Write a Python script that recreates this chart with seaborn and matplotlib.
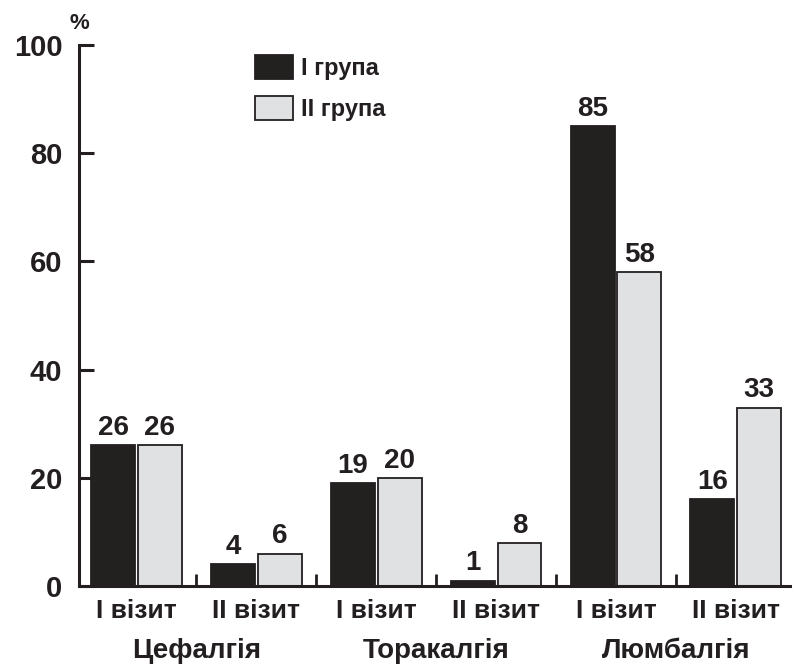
import matplotlib
matplotlib.use("Agg")
import matplotlib.pyplot as plt
import matplotlib.transforms as mtransforms
from matplotlib.ticker import FixedLocator
import pandas as pd
import seaborn as sns

visits = ["I візит", "II візит", "I візит", "II візит", "I візит", "II візит"]
conditions = ["Цефалгія", "Торакалгія", "Люмбалгія"]
group_names = ["I група", "II група"]
group1 = [26, 4, 19, 1, 85, 16]
group2 = [26, 6, 20, 8, 58, 33]
y_ticks = [0, 20, 40, 60, 80, 100]

DARK = "#231f20"
LIGHT = "#e0e1e3"

slots = [f"s{i}" for i in range(len(visits))]
df = pd.DataFrame({
    "slot": slots * 2,
    "value": group1 + group2,
    "group": [group_names[0]] * len(slots) + [group_names[1]] * len(slots),
})

sns.set_style("ticks")
plt.rcParams["font.family"] = ["Liberation Sans", "DejaVu Sans"]
plt.rcParams["font.weight"] = "bold"

fig = plt.figure(figsize=(7.95, 6.69), dpi=100)
ax = fig.add_axes([0.0994, 0.124, 0.894, 0.8087])

sns.barplot(data=df, x="slot", y="value", hue="group", order=slots,
            hue_order=group_names, palette=[DARK, LIGHT], width=0.78,
            gap=0.06, edgecolor=DARK, linewidth=1.3, ax=ax, legend=True)

for cont in ax.containers:
    ax.bar_label(cont, padding=3, fontsize=20, fontweight="bold", color=DARK)

ax.set_ylim(0, 100)
ax.set_xlim(-0.48, 5.45)
ax.set_yticks(y_ticks)
ax.set_yticklabels([str(t) for t in y_ticks], fontsize=21, fontweight="bold", color=DARK)
ax.set_xticks(range(len(visits)))
ax.set_xticklabels(visits, fontsize=19, fontweight="bold", color=DARK)
ax.xaxis.set_minor_locator(FixedLocator([0.5, 1.5, 2.5, 3.5, 4.5]))
ax.tick_params(axis="x", which="major", length=0, pad=9)
ax.tick_params(axis="x", which="minor", direction="in", length=9, width=2, color=DARK)
ax.tick_params(axis="y", direction="in", length=11, width=2.2, color=DARK, pad=12)
ax.set_xlabel("")
ax.set_ylabel("")
for side in ["top", "right"]:
    ax.spines[side].set_visible(False)
for side in ["left", "bottom"]:
    ax.spines[side].set_linewidth(2.2)
    ax.spines[side].set_color(DARK)

ax.text(-0.48, 104, "%", fontsize=16, fontweight="bold", color=DARK,
        ha="center", va="center", clip_on=False)

trans = mtransforms.blended_transform_factory(ax.transData, ax.transAxes)
for i, name in enumerate(conditions):
    ax.text(2 * i + 0.5, -0.12, name, transform=trans, ha="center", va="center",
            fontsize=20, fontweight="bold", color=DARK)

leg = ax.legend(loc="upper left", bbox_to_anchor=(0.2475, 0.982), frameon=False,
                fontsize=17, handlelength=1.6, handleheight=1.2, borderpad=0,
                borderaxespad=0, handletextpad=0.35, labelspacing=0.68)
for t in leg.get_texts():
    t.set_fontweight("bold")
    t.set_color(DARK)

fig.savefig("out.png", dpi=100)
